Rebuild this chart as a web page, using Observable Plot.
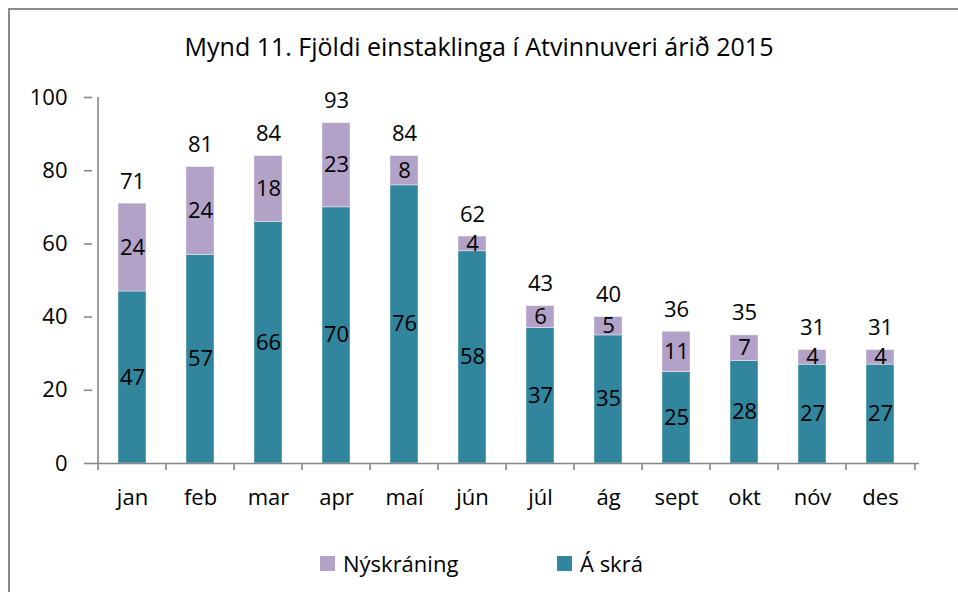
<!DOCTYPE html>
<html>
<head>
<meta charset="utf-8">
<script src="https://cdn.jsdelivr.net/npm/d3@7"></script>
<script src="https://cdn.jsdelivr.net/npm/@observablehq/plot@0.6"></script>
<style>
  html, body { margin: 0; padding: 0; background: #fff; }
  #wrap { position: relative; width: 958px; height: 592px; overflow: hidden; font-family: "Open Sans", sans-serif; color: #000; }
  #frame { position: absolute; left: 8px; top: 8px; width: 980px; height: 620px; border: 2px solid #8c8c8c; box-sizing: border-box; }
  #title { position: absolute; left: 0; width: 958px; top: 29px; text-align: center; font-size: 25px; line-height: 34px; }
  #chart { position: absolute; left: 0; top: 0; width: 958px; height: 592px; }
  .leg { position: absolute; top: 548px; font-size: 22px; line-height: 30px; display: flex; align-items: center; }
  .sw { width: 15px; height: 15px; margin-right: 8px; display: inline-block; }
</style>
</head>
<body>
<div id="wrap">
  <div id="frame"></div>
  <div id="chart"></div>
  <div id="title"></div>
  <div class="leg" id="leg1" style="left:320px"></div>
  <div class="leg" id="leg2" style="left:557px"></div>
</div>
<script>
const title = "Mynd 11. Fjöldi einstaklinga í Atvinnuveri árið 2015";
const months = ["jan","feb","mar","apr","maí","jún","júl","ág","sept","okt","nóv","des"];
const aSkra = [47,57,66,70,76,58,37,35,25,28,27,27];
const nyskraning = [24,24,18,23,8,4,6,5,11,7,4,4];
const seriesNames = ["Á skrá","Nýskráning"];
const colors = ["#31859C","#B3A2C7"];
const yTicks = [0,20,40,60,80,100];

const rows = [];
months.forEach((m,i) => {
  rows.push({month: m, series: seriesNames[0], value: aSkra[i]});
  rows.push({month: m, series: seriesNames[1], value: nyskraning[i]});
});
const totals = months.map((m,i) => ({month: m, total: aSkra[i] + nyskraning[i]}));

document.getElementById("title").textContent = title;

const W = 958, H = 592;
const mL = 92, mR = 39, mT = 97, mB = 129;
const step = (W - mL - mR) / months.length;
const gray = "#878787";
const font = "Open Sans, sans-serif";

const chart = Plot.plot({
  width: W, height: H,
  marginLeft: mL, marginRight: mR, marginTop: mT, marginBottom: mB,
  style: {fontFamily: font, fontSize: "22px", color: "#000", background: "transparent", overflow: "visible"},
  x: {domain: months, paddingInner: 0.59, paddingOuter: 0.295, label: null},
  y: {domain: [0,100], label: null},
  color: {domain: seriesNames, range: colors},
  marks: [
    Plot.barY(rows, Plot.stackY({x: "month", y: "value", z: "series", fill: "series", order: seriesNames, stroke: "#ffffff", strokeOpacity: 0.5, strokeWidth: 0.8})),
    Plot.text(rows, Plot.stackY({x: "month", y: "value", z: "series", order: seriesNames, text: d => d.value, fill: "#000", fontSize: 22})),
    Plot.text(totals, {x: "month", y: "total", text: "total", dy: -22, fill: "#000", fontSize: 22}),
    Plot.ruleY([0], {stroke: gray, strokeWidth: 1.6}),
    Plot.ruleX([months[0]], {x: d => d, dx: -step/2, stroke: gray, strokeWidth: 1.6}),
    Plot.axisY({ticks: yTicks, tickSize: 8, tickPadding: 17, stroke: gray, strokeWidth: 1.6, tickFormat: d => d, fontSize: 22, fill: "#000", label: null}),
    Plot.axisX({tickSize: 7, dx: -step/2, text: null, stroke: gray, strokeWidth: 1.6, label: null}),
    Plot.axisX({ticks: [months[months.length-1]], tickSize: 7, dx: step/2, text: null, stroke: gray, strokeWidth: 1.6, label: null}),
    Plot.axisX({tickSize: 0, tickPadding: 26, fontSize: 22, fill: "#000", label: null})
  ]
});
document.getElementById("chart").appendChild(chart);

function legend(el, name, color) {
  const sw = document.createElement("span");
  sw.className = "sw"; sw.style.background = color;
  el.appendChild(sw);
  el.appendChild(document.createTextNode(name));
}
legend(document.getElementById("leg1"), seriesNames[1], colors[1]);
legend(document.getElementById("leg2"), seriesNames[0], colors[0]);
</script>
</body>
</html>
